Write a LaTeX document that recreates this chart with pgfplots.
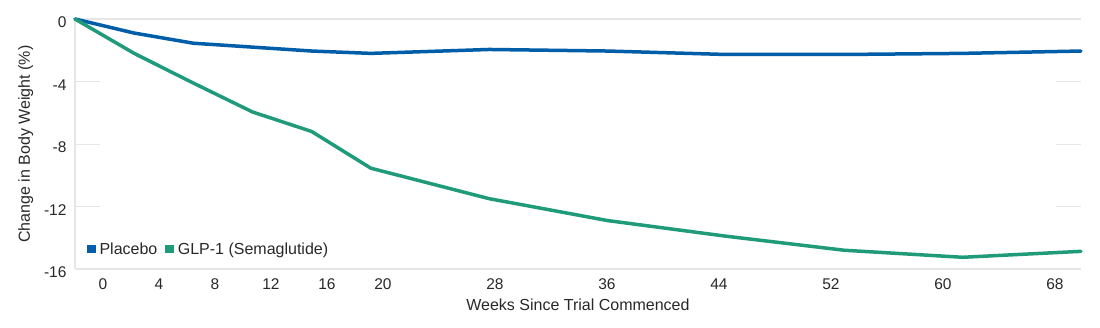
\documentclass[border=0pt]{standalone}
\usepackage{pgfplots}
\pgfplotsset{compat=1.18}
\usepackage{fontspec}
\setmainfont{Liberation Sans}
\definecolor{cblue}{RGB}{0,94,168}
\definecolor{cgreen}{RGB}{32,155,122}
\definecolor{cgrid}{RGB}{230,230,230}
\definecolor{ctext}{RGB}{40,40,40}
\begin{document}
\begin{tikzpicture}
\useasboundingbox (-75pt,-58pt) rectangle (1025pt,269pt);
\begin{axis}[
  scale only axis,
  width=1006pt, height=250pt,
  xmin=0, xmax=68, ymin=-16, ymax=0,
  axis line style={draw=none},
  xtick={1.893,5.678,9.463,13.249,17.034,20.819,28.390,35.960,43.531,51.102,58.673,66.243},
  xticklabels={0,4,8,12,16,20,28,36,44,52,60,68},
  ytick={-16,-12,-8,-4,0},
  yticklabels={-16,-12,-8,-4,0},
  xtick style={draw=none},
  ytick style={draw=cgrid, line width=1pt},
  tick align=inside,
  major tick length=25pt,
  extra y ticks={-16,0},
  extra y tick labels={},
  extra y tick style={grid=major, major grid style={draw=cgrid, line width=2pt}, tick style={draw=none}},
  ticklabel style={font=\fontsize{15.5}{17}\selectfont, text=ctext},
  /pgf/number format/assume math mode=true,
  yticklabel style={xshift=-5pt, yshift=-3.5pt},
  xticklabel style={yshift=-6pt},
  xlabel={Weeks Since Trial Commenced},
  ylabel={Change in Body Weight (\%)},
  label style={font=\fontsize{16}{18}\selectfont, text=ctext},
  xlabel style={yshift=-3pt},
  ylabel style={yshift=4pt},
  legend style={at={(axis cs:0.6,-14.75)}, anchor=west, draw=none, fill=none,
    font=\fontsize{16}{18}\selectfont, text=ctext, legend columns=2,
    /tikz/every odd column/.append style={column sep=2pt},
    /tikz/every even column/.append style={column sep=6pt}},
  legend image code/.code={\fill[#1, draw=none] (0pt,-4pt) rectangle (8.5pt,4.5pt);},
  clip=false,
]
\draw[cgrid, line width=2pt] (rel axis cs:0,0) -- (rel axis cs:0,1);
\addplot[cblue, line width=3.5pt, line cap=round, line join=round] coordinates {
  (0,0) (4,-0.9) (8,-1.55) (12,-1.8) (16,-2.05) (20,-2.2) (28,-1.95)
  (36,-2.05) (44,-2.27) (52,-2.27) (60,-2.2) (68,-2.05)};
\addlegendentry{Placebo}
\addplot[cgreen, line width=3.5pt, line cap=round, line join=round] coordinates {
  (0,0) (4,-2.2) (8,-4.1) (12,-5.95) (16,-7.2) (20,-9.55) (28,-11.5)
  (36,-12.9) (44,-13.9) (52,-14.8) (60,-15.25) (68,-14.87)};
\addlegendentry{GLP-1 (Semaglutide)}
\end{axis}
\end{tikzpicture}
\end{document}
